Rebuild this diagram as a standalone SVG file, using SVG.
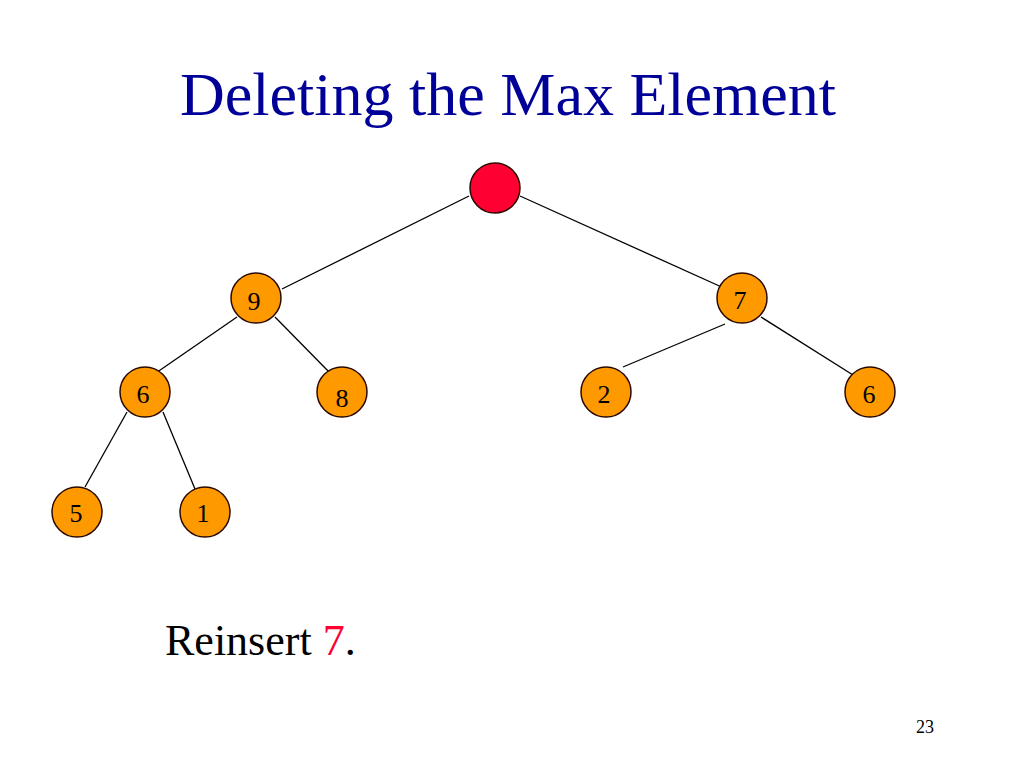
<svg xmlns="http://www.w3.org/2000/svg" width="1024" height="768" viewBox="0 0 1024 768">
<style>
.n{fill:#FF9900;stroke:#2a0a00;stroke-width:1.5}
.r{fill:#FF0033;stroke:#2a0a00;stroke-width:1.5}
.f{font-family:"Liberation Serif","Times New Roman",serif}
.t{font-family:"Liberation Serif","Times New Roman",serif;font-size:26px;fill:#000;text-anchor:middle}
.e{stroke:#000;stroke-width:1.3;fill:none}
</style>
<rect width="1024" height="768" fill="#fff"/>
<text class="f" x="508" y="115" font-size="62" fill="#000099" text-anchor="middle">Deleting the Max Element</text>
<g id="edges">
<line class="e" x1="469" y1="196" x2="282" y2="289"/>
<line class="e" x1="520" y1="196" x2="726" y2="289"/>
<line class="e" x1="237" y1="317" x2="153" y2="375"/>
<line class="e" x1="275" y1="317" x2="332" y2="375"/>
<line class="e" x1="725" y1="324" x2="623" y2="367"/>
<line class="e" x1="761" y1="317" x2="853" y2="375"/>
<line class="e" x1="127" y1="412" x2="85" y2="487"/>
<line class="e" x1="163" y1="412" x2="195" y2="489"/>
</g>
<g id="root"><circle class="r" cx="495" cy="188" r="25"/></g>
<g id="n9"><circle class="n" cx="256" cy="298" r="25"/><text class="t" x="254" y="310">9</text></g>
<g id="n7"><circle class="n" cx="742" cy="298" r="25"/><text class="t" x="740" y="309">7</text></g>
<g id="n6a"><circle class="n" cx="145" cy="392" r="25"/><text class="t" x="143" y="403">6</text></g>
<g id="n8"><circle class="n" cx="342" cy="392" r="25"/><text class="t" x="342" y="407">8</text></g>
<g id="n2"><circle class="n" cx="606" cy="392" r="25"/><text class="t" x="604" y="403">2</text></g>
<g id="n6b"><circle class="n" cx="870" cy="392" r="25"/><text class="t" x="869" y="403">6</text></g>
<g id="n5"><circle class="n" cx="77" cy="512" r="25"/><text class="t" x="76" y="522">5</text></g>
<g id="n1"><circle class="n" cx="205" cy="512" r="25"/><text class="t" x="203" y="522">1</text></g>
<text class="f" x="165" y="655" font-size="44" fill="#000">Reinsert <tspan fill="#FF0033">7</tspan>.</text>
<text class="f" x="934" y="733" font-size="18" fill="#000" text-anchor="end">23</text>
</svg>
